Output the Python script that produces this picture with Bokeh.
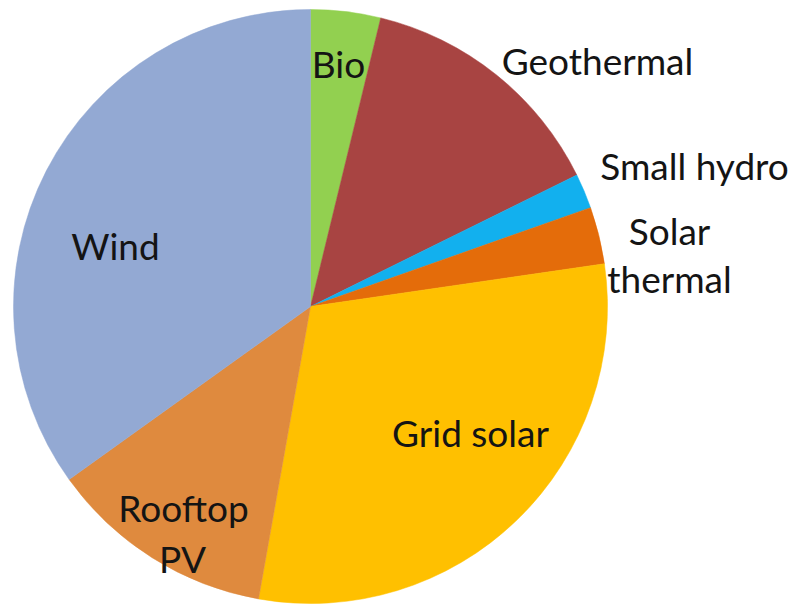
import math
from bokeh.plotting import figure
from bokeh.models import ColumnDataSource, Range1d
from bokeh.core.properties import value
from bokeh.embed import file_html
from bokeh.resources import INLINE

# Renewable generation mix (share of total, %), clockwise from 12 o'clock
categories = ["Bio", "Geothermal", "Small hydro", "Solar thermal",
              "Grid solar", "Rooftop PV", "Wind"]
shares = [3.8, 13.9, 1.9, 3.1, 30.1, 12.3, 34.9]
colors = ["#92D050", "#A84442", "#12B0EE", "#E46C0A",
          "#FFC000", "#DF8A3E", "#93A9D3"]

# Label lines per category
label_lines = {
    "Bio": ["Bio"],
    "Geothermal": ["Geothermal"],
    "Small hydro": ["Small hydro"],
    "Solar thermal": ["Solar", "thermal"],
    "Grid solar": ["Grid solar"],
    "Rooftop PV": ["Rooftop", "PV"],
    "Wind": ["Wind"],
}
# Label anchor (x, baseline y) in screen pixels, one per line
label_pos = {
    "Bio": [(338, 63)],
    "Geothermal": [(597, 60)],
    "Small hydro": [(694, 165)],
    "Solar thermal": [(669, 230), (669, 278)],
    "Grid solar": [(470, 432)],
    "Rooftop PV": [(183, 507), (182, 558)],
    "Wind": [(115, 245)],
}

W, H = 796, 605
CX, CY, R = 310, 306, 297

total = sum(shares)
starts, ends = [], []
acc = 0.0
for s in shares:
    a0 = acc / total * 2 * math.pi
    acc += s
    a1 = acc / total * 2 * math.pi
    # clockwise from top -> bokeh angles (counter-clockwise from +x)
    starts.append(math.pi / 2 - a1)
    ends.append(math.pi / 2 - a0)

src = ColumnDataSource(dict(cat=categories, share=shares, color=colors,
                            start=starts, end=ends))

p = figure(width=W, height=H, x_range=Range1d(0, W), y_range=Range1d(0, H),
           output_backend="svg", toolbar_location=None, min_border=0)
p.axis.visible = False
p.grid.visible = False
p.outline_line_color = None
p.background_fill_color = "white"
p.border_fill_color = "white"

p.wedge(x=CX, y=H - CY, radius=R, start_angle="start", end_angle="end",
        fill_color="color", line_color="color", line_width=0.5, source=src)

tx, ty, tt = [], [], []
for c in categories:
    for line, (x, y) in zip(label_lines[c], label_pos[c]):
        tx.append(x)
        ty.append(H - y)
        tt.append(line)
p.text(x=tx, y=ty, text=tt, text_align="center", text_baseline="alphabetic",
       text_font=value("Lato"), text_font_size="37px", text_color="#141414")

open("out.html", "w").write(file_html(p, INLINE))
